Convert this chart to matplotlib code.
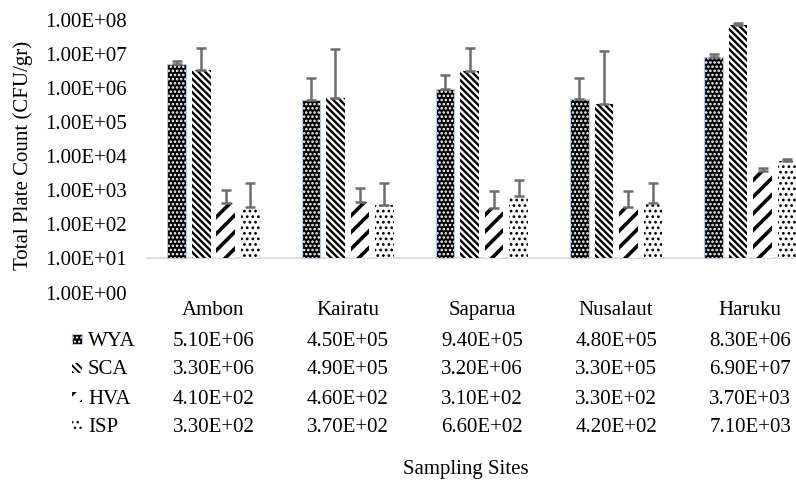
import matplotlib
matplotlib.use('Agg')
import matplotlib.pyplot as plt
from matplotlib.patches import Rectangle
from matplotlib.ticker import NullLocator
from matplotlib.transforms import blended_transform_factory
import numpy as np

sites = ['Ambon', 'Kairatu', 'Saparua', 'Nusalaut', 'Haruku']
media = ['WYA', 'SCA', 'HVA', 'ISP']
wya = [5.1e6, 4.5e5, 9.4e5, 4.8e5, 8.3e6]
sca = [3.3e6, 4.9e5, 3.2e6, 3.3e5, 6.9e7]
hva = [4.1e2, 4.6e2, 3.1e2, 3.3e2, 3.7e3]
isp = [3.3e2, 3.7e2, 6.6e2, 4.2e2, 7.1e3]

# upper error bars
wya_err = [1.0e6, 1.5e6, 1.5e6, 1.5e6, 1.5e6]
sca_err = [1.2e7, 1.3e7, 1.2e7, 1.2e7, 1.2e7]
hva_err = [6.0e2, 7.0e2, 6.5e2, 6.3e2, 7.0e2]
isp_err = [1.3e3, 1.3e3, 1.3e3, 1.2e3, 1.3e3]

series = [wya, sca, hva, isp]
errors = [wya_err, sca_err, hva_err, isp_err]
# face colour, hatch colour, hatch, hatch linewidth
styles = [
    ('black', 'white', '....', 1.2),
    ('white', 'black', '\\' * 5, 1.7),
    ('white', 'black', '//', 2.6),
    ('white', 'black', '...', 1.2),
]

plt.rcParams['font.family'] = ['Liberation Serif', 'DejaVu Serif']
W, H = 796, 484


def fx(px):
    return px / W


def fy(py):
    return 1 - py / H


fig = plt.figure(figsize=(W / 100, H / 100), dpi=100)
ax = fig.add_axes([fx(146.4), fy(292.5), fx(671), (292.5 - 19.7) / H])

x = np.arange(len(sites))
pitch = 0.1826
width = 0.138
baseline = 10

for i, (vals, errs, (face, hcolor, hatch, hlw)) in enumerate(zip(series, errors, styles)):
    pos = x + (i - 1.5) * pitch
    vals = np.array(vals)
    with plt.rc_context({'hatch.linewidth': hlw}):
        bars = ax.bar(pos, vals - baseline, width, bottom=baseline, color=face,
                      edgecolor=hcolor, hatch=hatch, linewidth=0, zorder=2)
        for b in bars:
            if hasattr(b, 'set_hatch_linewidth'):
                b.set_hatch_linewidth(hlw)
    if i == 0:
        ax.bar(pos, vals - baseline, width, bottom=baseline, fill=False,
               edgecolor='#b4c7e7', linewidth=0.8, zorder=3)
    ax.errorbar(pos, vals, yerr=[np.zeros(len(vals)), errs], fmt='none',
                ecolor='#6d6d6d', elinewidth=1.8, capsize=3.6, capthick=1.8,
                zorder=4)

ax.set_yscale('log')
ax.set_ylim(1, 1e8)
ax.set_xlim(-0.5, 4.5)
yt = [10.0 ** k for k in range(9)]
ax.set_yticks(yt)
ax.set_yticklabels([f'{t:.2E}' for t in yt])
ax.yaxis.set_minor_locator(NullLocator())
ax.tick_params(axis='y', length=0, pad=14, labelsize=15)
ax.set_xticks([])
for s in ax.spines.values():
    s.set_visible(False)
ax.axhline(baseline, color='#d9d9d9', linewidth=1.2, zorder=1)

fig.text(fx(23), fy(155), 'Total Plate Count (CFU/gr)', rotation=90,
         ha='center', va='center', fontsize=15)

# data table under the chart
tr = blended_transform_factory(ax.transData, fig.transFigure)
for j, site in enumerate(sites):
    fig.text(j, fy(315), site, transform=tr, ha='center', va='baseline', fontsize=15)

row_base = [345.5, 374.5, 403.5, 432.5]
for i, (name, vals, (face, hcolor, hatch, hlw)) in enumerate(zip(media, series, styles)):
    yb = row_base[i]
    with plt.rc_context({'hatch.linewidth': hlw * 0.8}):
        key = Rectangle((fx(72), fy(yb - 2)), fx(10), 10 / H, transform=fig.transFigure,
                        facecolor=face, edgecolor=hcolor, hatch=hatch, linewidth=0)
        if hasattr(key, 'set_hatch_linewidth'):
            key.set_hatch_linewidth(hlw * 0.8)
    fig.patches.append(key)
    if i == 0:
        fig.patches.append(Rectangle((fx(72), fy(yb - 2)), fx(10), 10 / H,
                                     transform=fig.transFigure, fill=False,
                                     edgecolor='#b4c7e7', linewidth=0.8))
    fig.text(fx(88), fy(yb), name, ha='left', va='baseline', fontsize=15)
    for j, v in enumerate(vals):
        fig.text(j, fy(yb), f'{v:.2E}', transform=tr, ha='center', va='baseline',
                 fontsize=15)

fig.text(fx(466), fy(474), 'Sampling Sites', ha='center', va='baseline', fontsize=15)

fig.savefig('out.png', dpi=100)
